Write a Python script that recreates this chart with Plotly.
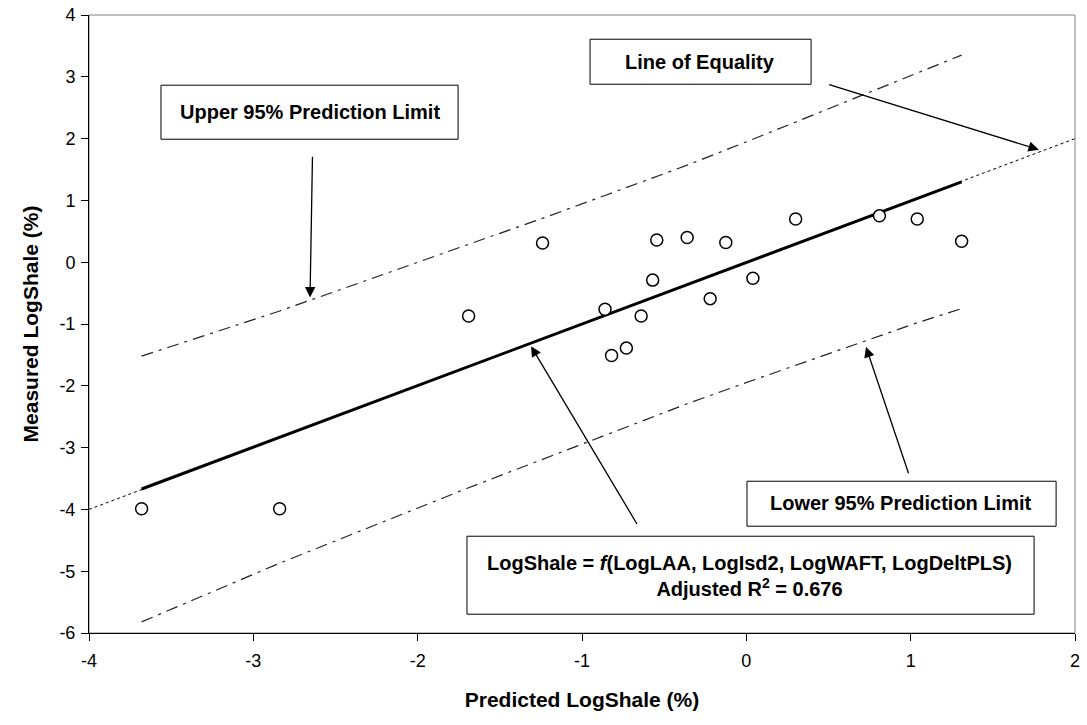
import plotly.graph_objects as go

# ---- data ----
predicted = [-3.68, -2.84, -1.69, -1.24, -0.86, -0.82, -0.73, -0.64, -0.57,
             -0.545, -0.36, -0.22, -0.125, 0.04, 0.30, 0.81, 1.04, 1.31]
measured = [-3.99, -3.99, -0.87, 0.31, -0.76, -1.51, -1.39, -0.87, -0.29,
            0.36, 0.40, -0.59, 0.32, -0.26, 0.70, 0.75, 0.70, 0.34]

fit_x = [-3.68, 1.31]
fit_y = [-3.67, 1.30]

equality_x = [-4, 2]
equality_y = [-4, 2]

limit_x = [-3.68, -2.84, -1.69, -1.24, -0.86, -0.36, 0.04, 0.30, 0.81, 1.04, 1.31]
upper_limit = [-1.52, -0.79, 0.29, 0.71, 1.08, 1.57, 1.99, 2.27, 2.81, 3.06, 3.35]
lower_limit = [-5.82, -4.87, -3.65, -3.19, -2.80, -2.29, -1.91, -1.67, -1.19, -0.98, -0.75]

x_ticks = [-4, -3, -2, -1, 0, 1, 2]
y_ticks = [4, 3, 2, 1, 0, -1, -2, -3, -4, -5, -6]

FONT = "Arial, 'Liberation Sans', sans-serif"

fig = go.Figure()
fig.add_trace(go.Scatter(x=equality_x, y=equality_y, mode="lines",
                         line=dict(color="black", width=1, dash="3px,3px"),
                         showlegend=False, hoverinfo="skip"))
fig.add_trace(go.Scatter(x=fit_x, y=fit_y, mode="lines",
                         line=dict(color="black", width=3),
                         showlegend=False, hoverinfo="skip"))
fig.add_trace(go.Scatter(x=limit_x, y=upper_limit, mode="lines",
                         line=dict(color="#222222", width=1.2, dash="12px,6px,3px,6px"),
                         showlegend=False, hoverinfo="skip"))
fig.add_trace(go.Scatter(x=limit_x, y=lower_limit, mode="lines",
                         line=dict(color="#222222", width=1.2, dash="12px,6px,3px,6px"),
                         showlegend=False, hoverinfo="skip"))
fig.add_trace(go.Scatter(x=predicted, y=measured, mode="markers",
                         marker=dict(symbol="circle", size=12, color="white",
                                     line=dict(color="black", width=1.5)),
                         showlegend=False))

shapes = [
    dict(type="rect", xref="paper", yref="paper", x0=0, x1=1, y0=0, y1=1,
         line=dict(color="#808080", width=1), layer="below"),
    dict(type="rect", xref="x", yref="y", x0=-3.562, x1=-1.754, y0=1.99, y1=2.864,
         line=dict(color="black", width=1), fillcolor="white", layer="above"),
    dict(type="rect", xref="x", yref="y", x0=-0.951, x1=0.394, y0=2.880, y1=3.608,
         line=dict(color="black", width=1), fillcolor="white", layer="above"),
    dict(type="rect", xref="x", yref="y", x0=0.004, x1=1.885, y0=-4.272, y1=-3.544,
         line=dict(color="black", width=1), fillcolor="white", layer="above"),
    dict(type="rect", xref="x", yref="y", x0=-1.700, x1=1.751, y0=-5.696, y1=-4.434,
         line=dict(color="black", width=1), fillcolor="white", layer="above"),
]

box_font = dict(family=FONT, size=20, color="black")
arrow = dict(xref="x", yref="y", axref="x", ayref="y", text="", showarrow=True,
             arrowhead=2, arrowsize=1.6, arrowwidth=1.3, arrowcolor="black")
annotations = [
    dict(x=-2.658, y=2.427, xref="x", yref="y", text="<b>Upper 95% Prediction Limit</b>",
         showarrow=False, font=box_font),
    dict(x=-0.282, y=3.236, xref="x", yref="y", text="<b>Line of Equality</b>",
         showarrow=False, font=box_font),
    dict(x=0.941, y=-3.90, xref="x", yref="y", text="<b>Lower 95% Prediction Limit</b>",
         showarrow=False, font=box_font),
    dict(x=0.022, y=-5.075, xref="x", yref="y",
         text="<b>LogShale = <i>f</i>(LogLAA, LogIsd2, LogWAFT, LogDeltPLS)</b><br>"
              "<b>Adjusted R<sup>2</sup> = 0.676</b>",
         showarrow=False, font=box_font),
    dict(x=-2.655, y=-0.57, ax=-2.64, ay=1.73, **arrow),
    dict(x=1.78, y=1.82, ax=0.495, ay=2.88, **arrow),
    dict(x=0.728, y=-1.37, ax=0.99, ay=-3.44, **arrow),
    dict(x=-1.31, y=-1.36, ax=-0.66, ay=-4.26, **arrow),
]

fig.update_layout(
    width=1087, height=725,
    margin=dict(l=89, r=12, t=15, b=92, autoexpand=False),
    paper_bgcolor="white", plot_bgcolor="white",
    font=dict(family=FONT, color="black"),
    shapes=shapes, annotations=annotations,
    xaxis=dict(range=[-4, 2], tickvals=x_ticks, ticktext=[str(v) for v in x_ticks],
               automargin=False, ticklabelstandoff=4,
               showgrid=False, zeroline=False, showline=True, linecolor="black", linewidth=1,
               ticks="outside", ticklen=7, tickcolor="black",
               tickfont=dict(family=FONT, size=18),
               title=dict(text="<b>Predicted LogShale (%)</b>", font=dict(family=FONT, size=21),
                          standoff=22)),
    yaxis=dict(range=[-6, 4], tickvals=y_ticks, ticktext=[str(v) for v in y_ticks],
               automargin=False, ticklabelstandoff=2,
               showgrid=False, zeroline=False, showline=True, linecolor="black", linewidth=1,
               ticks="outside", ticklen=7, tickcolor="black",
               tickfont=dict(family=FONT, size=18),
               title=dict(text="<b>Measured LogShale (%)</b>", font=dict(family=FONT, size=21),
                          standoff=15)),
)

fig.write_html("out.html", config={"displayModeBar": False},
               post_script="document.body.style.margin='0';")
